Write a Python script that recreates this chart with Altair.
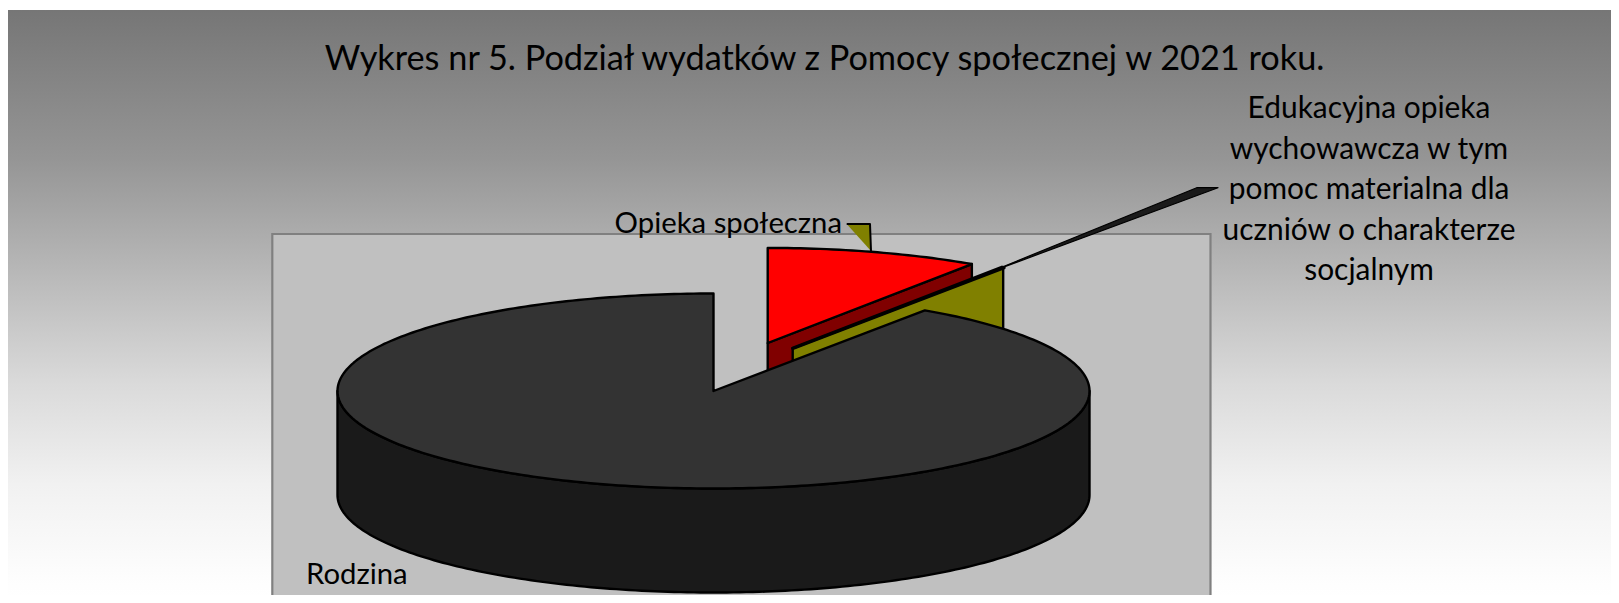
import math
import altair as alt
import pandas as pd

# --- chart values (percent shares)
SLICE_NAMES = ["Opieka społeczna", "Edukacyjna opieka", "Rodzina"]
SLICE_SHARES = [9.4, 0.1, 90.5]
TITLE = "Wykres nr 5. Podział wydatków z Pomocy społecznej w 2021 roku."
LABEL_EDU = ["Edukacyjna opieka", "wychowawcza w tym", "pomoc materialna dla",
             "uczniów o charakterze", "socjalnym"]

# --- layout (page pixels)
W, H = 1603, 587
CX, CY, RX, RY, DEPTH = 713.5, 391.0, 376.0, 97.5, 104.0
OFFSETS = [(54.2, -48.0), (79.2, -42.7), (0.0, 0.0)]
SCALES = [0.975, 1.0, 1.0]
FONT = "Lato"

x_scale = alt.Scale(domain=[8, 8 + W], range=[0, W], nice=False, zero=False)
y_scale = alt.Scale(domain=[8, 8 + H], range=[0, H], nice=False, zero=False)
X = lambda f="x": alt.X(f"{f}:Q", scale=x_scale, axis=None)
Y = lambda f="y": alt.Y(f"{f}:Q", scale=y_scale, axis=None)

# slice boundary angles, clockwise from 12 o'clock
bounds = [0.0]
for s in SLICE_SHARES:
    bounds.append(bounds[-1] + s * 3.6)


def rim(i, a, dz=0.0):
    ox, oy = OFFSETS[i]
    k = SCALES[i]
    t = math.radians(a)
    return (CX + ox + k * RX * math.sin(t), CY + oy - k * RY * math.cos(t) + dz)


def arc(i, a0, a1, dz=0.0):
    n = max(2, int(abs(a1 - a0)) + 1)
    return [rim(i, a0 + (a1 - a0) * j / (n - 1), dz) for j in range(n)]


def apex(i, dz=0.0):
    return (CX + OFFSETS[i][0], CY + OFFSETS[i][1] + dz)


def poly(points, fill, stroke="black", sw=2.4, closed=True):
    df = pd.DataFrame(points, columns=["x", "y"])
    df["i"] = range(len(df))
    kw = dict(interpolate="linear-closed" if closed else "linear",
              strokeWidth=sw, strokeJoin="round", clip=False)
    if fill:
        kw["fill"] = fill
    kw["stroke"] = stroke if stroke else "transparent"
    return alt.Chart(df).mark_line(**kw).encode(
        x=X(), y=Y(), order=alt.Order("i:Q"))


def text(rows, size, align="center"):
    df = pd.DataFrame(rows, columns=["t", "x", "y"])
    return alt.Chart(df).mark_text(
        font=FONT, fontSize=size, align=align, baseline="alphabetic", color="#000000"
    ).encode(x=X(), y=Y(), text="t:N")


# background gradient
bg = alt.Chart(pd.DataFrame({"x": [8], "x2": [8 + W], "y": [10], "y2": [603]})).mark_rect(
    color=alt.Gradient(
        gradient="linear", x1=0, y1=0, x2=0, y2=1,
        stops=[
            alt.GradientStop(color="#767676", offset=0),
            alt.GradientStop(color="#959595", offset=0.25),
            alt.GradientStop(color="#dadada", offset=0.63),
            alt.GradientStop(color="#f1f1f1", offset=0.8),
            alt.GradientStop(color="#fefefe", offset=0.97),
            alt.GradientStop(color="#ffffff", offset=1),
        ],
    )
).encode(x=X(), x2="x2:Q", y=Y(), y2="y2:Q")

plot_area = alt.Chart(pd.DataFrame({"x": [272.3], "x2": [1210.5], "y": [234], "y2": [640]})).mark_rect(
    fill="#c0c0c0", stroke="#808080", strokeWidth=2.2, clip=False
).encode(x=X(), x2="x2:Q", y=Y(), y2="y2:Q")

# leader shapes
leader_op_fill = poly([(846.7, 224), (870, 224), (871, 251)], "#808000", stroke=None, sw=0)
leader_op_edge = poly([(846.7, 224), (870, 224), (871, 251)], None, sw=2.0, closed=False)
leader_edu = poly([(985, 274), (1196.7, 187.7), (1218, 187.7)], "#1a1a1a", sw=1.2)

# exploded slices
a_red0, a_red1, a_edu1 = bounds[0], bounds[1], bounds[2]
red_wall = poly([apex(0), rim(0, a_red1), rim(0, a_red1, DEPTH), apex(0, DEPTH)], "#800000")
red_top = poly([apex(0)] + arc(0, a_red0, a_red1), "#ff0000")
edu_wall = poly([apex(1), rim(1, a_red1 + 0.2), rim(1, a_red1 + 0.2, DEPTH), apex(1, DEPTH)], "#808000")
edu_top = poly([apex(1), rim(1, a_red1), rim(1, a_edu1)], "#000000", sw=3.4)

# main slice
main_wall = poly(arc(2, 90, 270) + arc(2, 270, 90, DEPTH), "#1a1a1a")
main_top = poly([apex(2)] + arc(2, a_edu1, 360), "#333333")

labels = text([(TITLE, 824.5, 70)], 34.3)
lab_op = text([(SLICE_NAMES[0], 842, 233)], 29.3, align="right")
lab_rod = text([(SLICE_NAMES[2], 306, 584)], 29.3, align="left")
lab_edu = text([(t, 1369, 118 + 40.6 * i) for i, t in enumerate(LABEL_EDU)], 29.9)

chart = alt.layer(
    bg, plot_area, leader_op_fill, leader_op_edge, leader_edu,
    red_wall, red_top, edu_wall, edu_top, main_wall, main_top,
    labels, lab_op, lab_rod, lab_edu,
).properties(
    width=W, height=H, padding=0, background="#ffffff",
    autosize=alt.AutoSizeParams(type="none"),
).configure_view(stroke=None)

chart.save("out.html", embed_options={"renderer": "svg", "actions": False})
